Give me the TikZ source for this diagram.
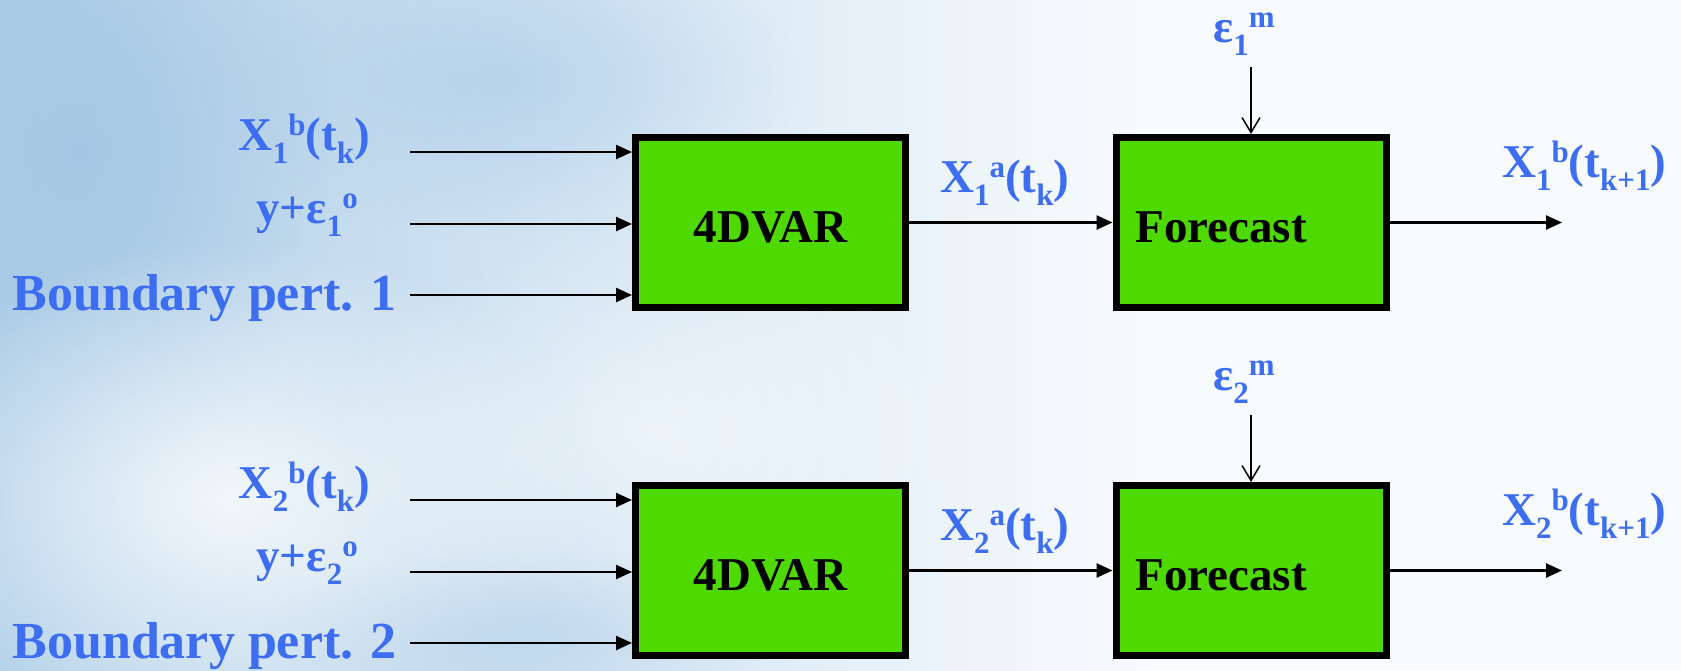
\documentclass[tikz,border=0pt]{standalone}
\usepackage{fontspec}
\setmainfont{Liberation Serif}
\usetikzlibrary{arrows.meta,fadings}
\definecolor{lblue}{RGB}{61,110,242}
\definecolor{bgreen}{RGB}{78,217,0}
\definecolor{skyL}{RGB}{176,207,232}
\definecolor{skyD}{RGB}{160,197,228}
\definecolor{skyR}{RGB}{248,251,253}
\newcommand{\lowx}[1]{\raisebox{-13pt}{\fontsize{31}{31}\selectfont #1}}
\newcommand{\hix}[1]{\raisebox{15pt}{\fontsize{31}{31}\selectfont #1}}
\tikzfading[name=softfade, inner color=transparent!0, outer color=transparent!100]
\tikzset{
  lab/.style={text=lblue, font=\fontsize{47}{50}\selectfont\bfseries, inner sep=0pt},
  biglab/.style={text=lblue, font=\fontsize{52}{56}\selectfont\bfseries, inner sep=0pt},
  procbox/.style={draw=black, fill=bgreen, line width=7pt, minimum width=270pt,
    minimum height=170pt, font=\fontsize{47}{50}\selectfont\bfseries,
    text height=39pt, text depth=0pt, inner sep=0pt},
  feed/.style={line width=2.5pt, -{Triangle[length=16pt,width=14pt]}},
  noise/.style={line width=1.5pt, -{Straight Barb[length=15pt,width=18pt]}},
  fuzzy/.style={path fading=softfade},
}
\begin{document}
\begin{tikzpicture}[x=1pt,y=-1pt]
\useasboundingbox (0,0) rectangle (1681,670);
% sky background
\fill[skyR] (0,0) rectangle (1681,670);
\shade[left color=skyL, right color=skyR] (0,0) rectangle (1150,670);
\fill[skyD, opacity=0.8, fuzzy] (80,150) ellipse (260 and 320);
\fill[skyD, opacity=0.5, fuzzy] (500,80) ellipse (300 and 160);
\fill[white, opacity=0.8, fuzzy] (230,500) ellipse (360 and 260);
\fill[white, opacity=0.5, fuzzy] (650,430) ellipse (320 and 200);
\fill[skyD, opacity=0.35, fuzzy] (520,640) ellipse (260 and 90);

\foreach \r/\dy in {1/0,2/348} {
  % inputs
  \node[lab, anchor=base east] (xb\r) at (370,150+\dy) {X\lowx{\r}\hix{b}(t\lowx{k})};
  \node[lab, anchor=base east] (yo\r) at (358,223+\dy) {y+ε\lowx{\r}\hix{o}};
  \node[biglab, anchor=base east] (bd\r) at (397,310+\dy) {Boundary pert. \r};
  % boxes
  \node[procbox] (var\r) at (770.5,222.5+\dy) {4DVAR};
  \node[procbox, align=left, text width=231pt, inner xsep=19.5pt] (fc\r) at (1251,222.5+\dy) {Forecast};
  % input arrows
  \coordinate (sa\r) at (410,152+\dy);
  \coordinate (sb\r) at (410,224+\dy);
  \coordinate (sc\r) at (410,295+\dy);
  \draw[feed] (sa\r) -- (sa\r -| var\r.west);
  \draw[feed] (sb\r) -- (sb\r -| var\r.west);
  \draw[feed] (sc\r) -- (sc\r -| var\r.west);
  % analysis
  \node[lab, anchor=base west] (xa\r) at (940,192+\dy) {X\lowx{\r}\hix{a}(t\lowx{k})};
  \draw[feed] (var\r.east) -- (fc\r.west);
  % output
  \coordinate (o\r) at (1562,222.5+\dy);
  \draw[feed] (fc\r.east) -- (o\r);
  \node[lab, anchor=base west] (xn\r) at (1502,177+\dy) {X\lowx{\r}\hix{b}(t\lowx{k+1})};
  % model error
  \node[lab, anchor=base west] (em\r) at (1213,42+\dy) {ε\lowx{\r}\hix{m}};
  \coordinate (es\r) at (1251,67+\dy);
  \draw[noise] (es\r) -- (fc\r.north);
}
\end{tikzpicture}
\end{document}
